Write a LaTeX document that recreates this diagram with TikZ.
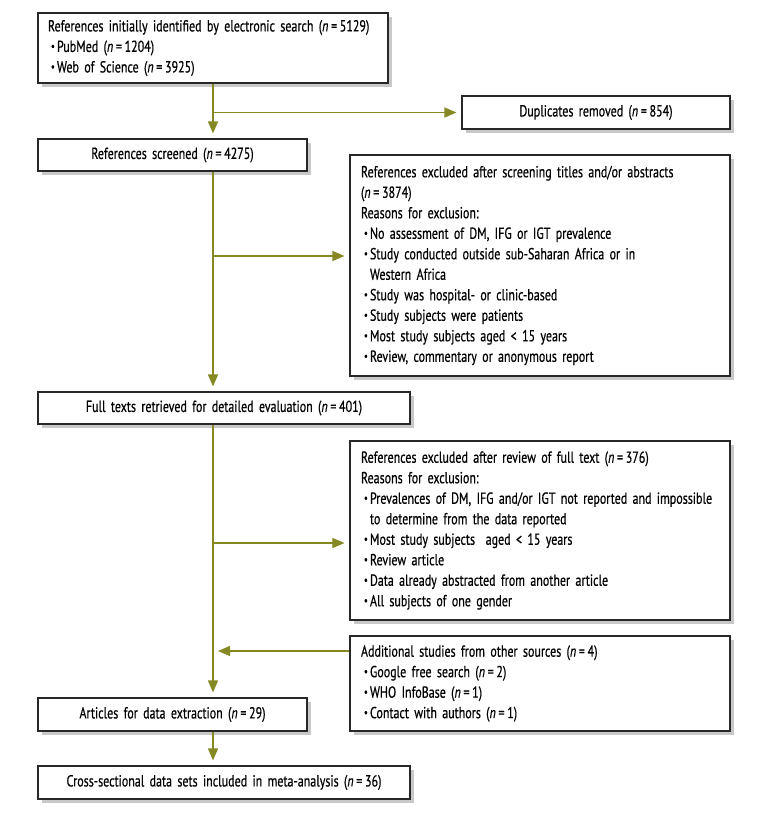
\documentclass[tikz,border=0pt]{standalone}
\usepackage{fontspec}
\setmainfont{PT Sans}[FakeStretch=0.75,WordSpace=0.7,FakeBold=0.5]
\usetikzlibrary{arrows.meta,shadows,calc}
\definecolor{arrowgreen}{RGB}{134,137,35}
\definecolor{boxline}{RGB}{40,40,40}
\definecolor{shadowgray}{RGB}{200,200,200}
\newcommand\bl{\hspace*{3pt}\makebox[6pt][l]{\raisebox{0.25ex}{\scalebox{0.7}{\textbullet}}}}
\newcommand\nval[1]{(\textit{n}\,=\,#1)}
\begin{document}
\begin{tikzpicture}[x=1pt,y=-1pt,
  box/.style={draw=boxline, line width=1.1pt, fill=white,
    drop shadow={shadow xshift=4pt,shadow yshift=-4pt,fill=shadowgray,opacity=1},
    inner xsep=10pt, inner ysep=0pt, font=\fontsize{16}{20.5}\selectfont},
  lbox/.style={box, align=left},
  cbox/.style={box, align=center},
  arr/.style={draw=arrowgreen, line width=1.3pt, -{Triangle[length=12pt,width=10pt]}, shorten >=5pt}]
\useasboundingbox (0,0) rectangle (771,816);

\node[lbox, minimum width=350pt, minimum height=70pt, text width=330pt] (B1) at (213,48)
  {References initially identified by electronic search \nval{5129}\\
   \bl PubMed \nval{1204}\\
   \bl Web of Science \nval{3925}};

\node[cbox, minimum width=268pt, minimum height=33pt, text width=248pt] (Dup) at (596,112.5)
  {Duplicates removed \nval{854}};

\node[cbox, minimum width=269pt, minimum height=32pt, text width=249pt] (B2) at (172.5,155)
  {References screened \nval{4275}};

\node[lbox, minimum width=380pt, minimum height=221pt, text width=358pt, inner xsep=11pt] (Ex1) at (540,265.5)
  {References excluded after screening titles and/or abstracts\\
   \nval{3874}\\
   Reasons for exclusion:\\
   \bl No assessment of DM, IFG or IGT prevalence\\
   \bl Study conducted outside sub-Saharan Africa or in\\
   \hspace*{9pt}Western Africa\\
   \bl Study was hospital- or clinic-based\\
   \bl Study subjects were patients\\
   \bl Most study subjects aged < 15 years\\
   \bl Review, commentary or anonymous report};

\node[cbox, minimum width=372pt, minimum height=32pt, text width=352pt] (B3) at (224,408)
  {Full texts retrieved for detailed evaluation \nval{401}};

\node[lbox, minimum width=380pt, minimum height=179pt, text width=358pt, inner xsep=11pt] (Ex2) at (540,530.5)
  {References excluded after review of full text \nval{376}\\
   Reasons for exclusion:\\
   \bl Prevalences of DM, IFG and/or IGT not reported and impossible\\
   \hspace*{9pt}to determine from the data reported\\
   \bl Most study subjects\ \ aged < 15 years\\
   \bl Review article\\
   \bl Data already abstracted from another article\\
   \bl All subjects of one gender};

\node[lbox, minimum width=380pt, minimum height=95pt, text width=358pt, inner xsep=11pt] (Add) at (540,683.5)
  {Additional studies from other sources \nval{4}\\
   \bl Google free search \nval{2}\\
   \bl WHO InfoBase \nval{1}\\
   \bl Contact with authors \nval{1}};

\node[cbox, minimum width=269pt, minimum height=33pt, text width=249pt] (B4) at (172.5,714.5)
  {Articles for data extraction \nval{29}};

\node[cbox, minimum width=372pt, minimum height=33pt, text width=352pt] (B5) at (224,782.5)
  {Cross-sectional data sets included in meta-analysis \nval{36}};

\coordinate (sp) at (213,0);
\coordinate (j0) at (213,112.5);
\coordinate (j1) at (213,256);
\coordinate (j2) at (213,543);
\coordinate (j3) at (213,651);

\draw[arr] (B1.south) -- (sp |- B2.north);
\draw[arr] (sp |- B2.south) -- (sp |- B3.north);
\draw[arr] (sp |- B3.south) -- (sp |- B4.north);
\draw[arr] (sp |- B4.south) -- (sp |- B5.north);
\draw[arr] (j0) -- (Dup.west);
\draw[arr] (j1) -- (j1 -| Ex1.west);
\draw[arr] (j2) -- (j2 -| Ex2.west);
\draw[arr] (j3 -| Add.west) -- (j3);
\end{tikzpicture}
\end{document}
